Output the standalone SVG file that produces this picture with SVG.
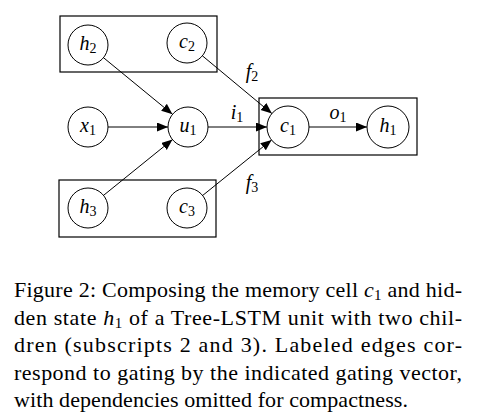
<svg xmlns="http://www.w3.org/2000/svg" width="481" height="417" viewBox="0 0 481 417">
<style>
.box{fill:none;stroke:#000;stroke-width:1.2}
.node circle{fill:#fff;stroke:#000;stroke-width:1}
.lbl{font-family:"Liberation Serif","Times New Roman",serif;font-size:20px;font-style:italic;text-anchor:middle}
.sub{font-style:normal;font-size:14px}
.edge{stroke:#000;stroke-width:1;fill:none;marker-end:url(#arr)}
.cap{font-family:"Liberation Serif","Times New Roman",serif;font-size:22px;fill:#000}
.m{font-style:italic}
.s{font-size:15px}
</style>
<defs>
<marker id="arr" markerUnits="userSpaceOnUse" markerWidth="12" markerHeight="10" refX="11" refY="4.5" orient="auto">
<path d="M0,0 L11,4.5 L0,9 z" fill="#000"/>
</marker>
</defs>
<rect width="481" height="417" fill="#fff"/>
<rect class="box" x="60" y="16" width="157" height="56"/>
<rect class="box" x="59" y="180" width="157" height="57"/>
<rect class="box" x="259" y="98" width="158" height="57"/>
<g id="connectors">
<line class="edge" x1="103.5" y1="57.7" x2="172.5" y2="114.3"/>
<line class="edge" x1="202.4" y1="55.8" x2="271.9" y2="113.6"/>
<line class="edge" x1="108" y1="127" x2="168" y2="127"/>
<line class="edge" x1="208" y1="127" x2="267" y2="127"/>
<line class="edge" x1="309" y1="127" x2="367" y2="127"/>
<line class="edge" x1="103.5" y1="195.4" x2="172.5" y2="139.6"/>
<line class="edge" x1="202.6" y1="195.5" x2="271.6" y2="139.9"/>
<text class="lbl" x="252" y="78">f<tspan class="sub" dy="3">2</tspan></text>
<text class="lbl" x="237" y="119">i<tspan class="sub" dy="3">1</tspan></text>
<text class="lbl" x="338" y="119">o<tspan class="sub" dy="3">1</tspan></text>
<text class="lbl" x="252" y="189">f<tspan class="sub" dy="3">3</tspan></text>
</g>
<g id="h2" class="node"><circle cx="88" cy="45" r="20"/><text class="lbl" x="88" y="50">h<tspan class="sub" dy="3">2</tspan></text></g>
<g id="c2" class="node"><circle cx="187" cy="43" r="20"/><text class="lbl" x="187" y="48">c<tspan class="sub" dy="3">2</tspan></text></g>
<g id="x1" class="node"><circle cx="88" cy="127" r="20"/><text class="lbl" x="88" y="132">x<tspan class="sub" dy="3">1</tspan></text></g>
<g id="u1" class="node"><circle cx="188" cy="127" r="20"/><text class="lbl" x="188" y="132">u<tspan class="sub" dy="3">1</tspan></text></g>
<g id="c1" class="node"><circle cx="288" cy="127" r="21"/><text class="lbl" x="288" y="132">c<tspan class="sub" dy="3">1</tspan></text></g>
<g id="h1" class="node"><circle cx="388" cy="127" r="21"/><text class="lbl" x="388" y="132">h<tspan class="sub" dy="3">1</tspan></text></g>
<g id="h3" class="node"><circle cx="88" cy="208" r="20"/><text class="lbl" x="88" y="213">h<tspan class="sub" dy="3">3</tspan></text></g>
<g id="c3" class="node"><circle cx="187" cy="208" r="20"/><text class="lbl" x="187" y="213">c<tspan class="sub" dy="3">3</tspan></text></g>
<g id="caption">
<text class="cap" x="14" y="297" textLength="448" lengthAdjust="spacing">Figure 2: Composing the memory cell <tspan class="m">c</tspan><tspan class="s" dy="3">1</tspan><tspan dy="-3"> and hid-</tspan></text>
<text class="cap" x="14" y="325" textLength="448" lengthAdjust="spacing">den state <tspan class="m">h</tspan><tspan class="s" dy="3">1</tspan><tspan dy="-3"> of a Tree-LSTM unit with two chil-</tspan></text>
<text class="cap" x="14" y="352" textLength="448" lengthAdjust="spacing">dren (subscripts 2 and 3).  Labeled edges cor-</text>
<text class="cap" x="14" y="380" textLength="448" lengthAdjust="spacing">respond to gating by the indicated gating vector,</text>
<text class="cap" x="14" y="407" textLength="394" lengthAdjust="spacing">with dependencies omitted for compactness.</text>
</g>
</svg>
